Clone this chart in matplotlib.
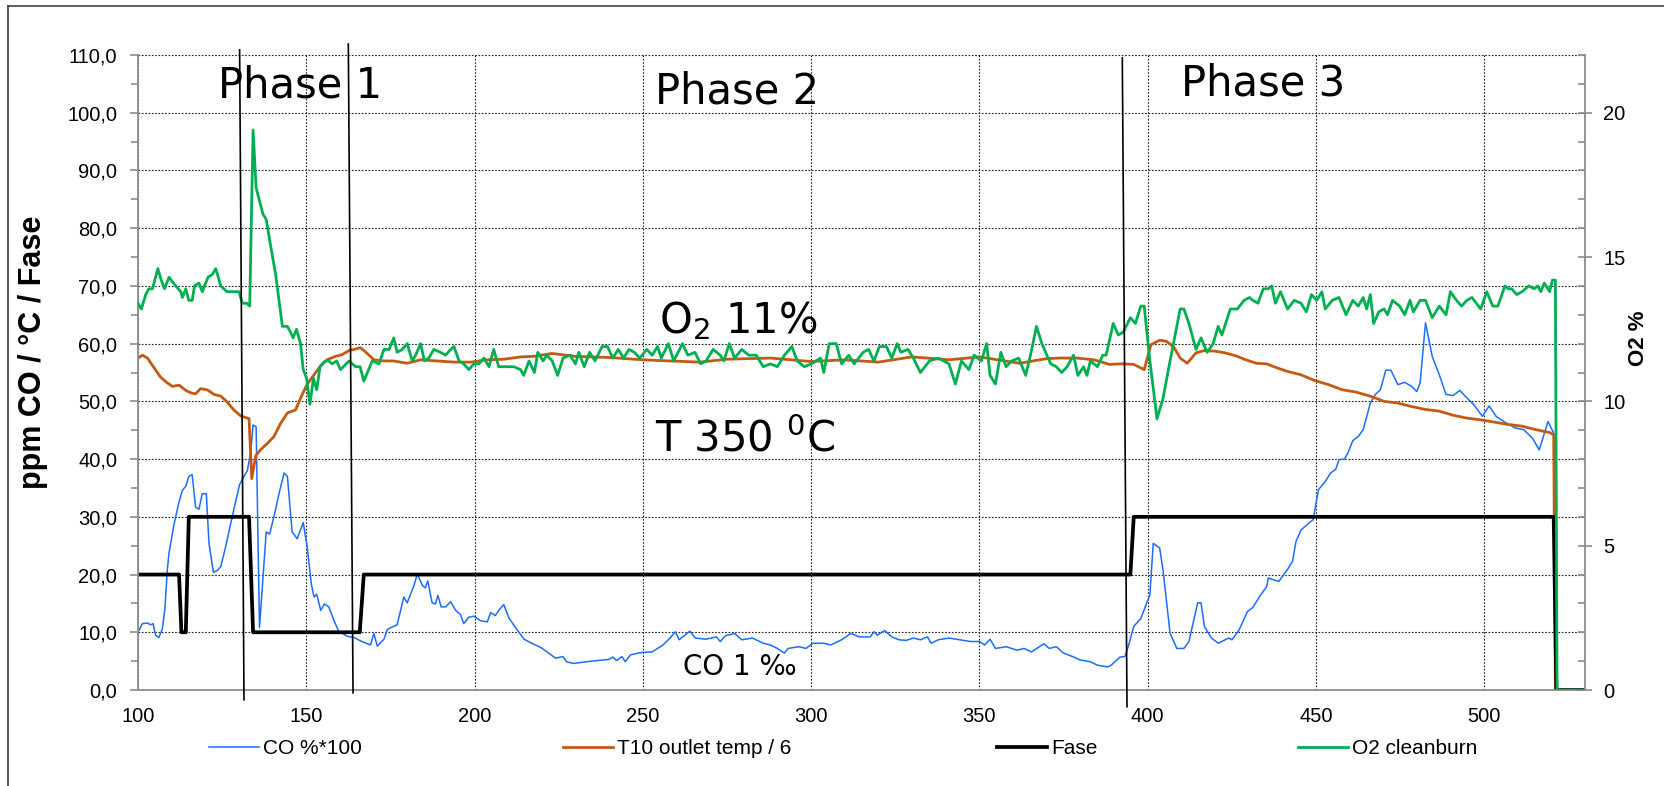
import matplotlib
matplotlib.use("Agg")
import matplotlib.pyplot as plt
from matplotlib.lines import Line2D
from matplotlib.ticker import MultipleLocator, FuncFormatter

plt.rcParams['font.family'] = ['Liberation Sans', 'DejaVu Sans']
plt.rcParams['mathtext.fontset'] = 'dejavusans'

# CO %*100 (left axis)
co_x = [100, 101.3, 102.8, 103.8, 104.5, 105.2, 106.2, 107.2, 108, 108.7, 109.2,
        110.7, 112.2, 113.2, 114.2, 115.1, 116.1, 117.1, 118.1, 119.1, 120.3,
        121.1, 122.4, 123.6, 124.6, 126, 127.5, 129, 130.2, 131.5, 132.5, 133.5,
        134.2, 135.1, 136.1, 138.1, 139.1, 140.4, 141.9, 143.4, 144.4, 145.8,
        147.3, 149.1, 150.3, 151.5, 152.3, 153.1, 154.3, 155.4, 156.7, 158.2,
        159.7, 162.2, 164.2, 166.1, 169.1, 170.1, 171.1, 173.1, 174.1, 175.5,
        177, 179, 180, 182, 183, 184.5, 185.4, 186.1, 187.4, 188.4, 189.1, 190.1,
        191.4, 192.9, 194.4, 195.8, 196.8, 198.3, 199.8, 201.8, 203.8, 204.8,
        206.2, 207.2, 208.7, 210.2, 212.2, 214.7, 217, 219.9, 224.1, 226.3,
        227.3, 229.4, 234.8, 240, 241.1, 242.2, 243.8, 244.8, 246.4, 249.6,
        252.8, 256, 258.1, 259.7, 260.8, 264, 265.6, 268.8, 271.9, 273, 274.6,
        277.3, 279.4, 282.6, 285.8, 287.9, 290, 292.1, 293.2, 296.4, 298.5,
        300.6, 303.8, 305.9, 309.1, 311.8, 314.4, 317.6, 318.7, 319.7, 321.9,
        324, 326.1, 328.3, 330.4, 332.5, 334.6, 335.7, 337.8, 341, 344.2, 347.4,
        350, 351.6, 353.2, 354.8, 358, 361.2, 363.3, 365.5, 369.2, 370.8, 372.9,
        375, 377.7, 380, 383, 385.1, 388.2, 389.2, 390.3, 391.8, 393.3, 394.4,
        395.9, 398, 399.5, 400.7, 401.7, 403.6, 404.6, 406.7, 408.7, 410.8,
        412.3, 414.9, 415.9, 416.9, 419, 421, 424.1, 425.1, 427.2, 429.7, 431.3,
        433.3, 435.4, 435.9, 439, 441.5, 443.1, 444.1, 445.6, 447.7, 449.2,
        450.8, 452.8, 454.4, 455.9, 456.9, 458.5, 459.5, 461, 462.6, 464.1,
        466.2, 467.7, 469.2, 470.8, 472.3, 474.4, 476.4, 478.5, 480, 481, 482.6,
        484.6, 486.7, 488.7, 490.8, 492.8, 494.4, 497, 499.5, 501.5, 503.6,
        506.2, 509.2, 511.8, 514.4, 516.4, 519, 520.7]
co_y = [10, 11.5, 11.6, 11.3, 11.5, 9.5, 9.1, 10.5, 14.1, 20.7, 23.7,
        28.7, 32.6, 34.6, 35.3, 37, 37.3, 31.7, 31.3, 34, 34,
        25.4, 20.4, 20.7, 21.4, 24.7, 28.7, 32.6, 35.6, 37, 38, 41.3,
        45.9, 45.6, 10.8, 27.4, 27, 30, 34, 37.6, 37, 27.4,
        26.2, 29, 24.7, 18.4, 16.1, 16.6, 13.8, 14.9, 14.4, 12.1,
        10.1, 9.3, 9.1, 8.5, 7.8, 9.8, 7.6, 8.8, 10.5, 10.9,
        11.3, 16.1, 15.1, 18.1, 20.1, 18.1, 17.7, 18.9, 15.1, 14.9, 16.4, 14.4,
        14.4, 15.3, 13.8, 13.1, 11.5, 12.6, 12.8, 12, 11.8, 13.4,
        12.9, 13.8, 14.8, 12.5, 10.8, 8.8, 8.1, 7.3, 5.5, 5.8,
        4.9, 4.6, 5.0, 5.3, 5.7, 5.1, 5.8, 4.9, 6.1, 6.5,
        6.6, 7.8, 9.0, 10.1, 8.7, 10.2, 9.0, 8.8, 9.2, 8.4, 9.4,
        9.8, 8.7, 9.0, 8.1, 7.8, 7.2, 6.4, 7.2, 7.5, 7.2,
        8.1, 8.1, 7.8, 8.7, 9.8, 9.2, 9.2, 10.1, 9.5, 10.3,
        9.2, 8.7, 8.6, 9.0, 8.7, 9.2, 8.1, 8.7, 9.0, 8.7, 8.4,
        8.4, 7.8, 8.8, 7.2, 7.5, 6.9, 7.2, 6.6, 8.0, 7.2, 7.5,
        6.4, 5.8, 5.2, 4.9, 4.3, 4.0, 4.3, 4.9, 5.7, 5.8, 7.8,
        11, 12.4, 14.7, 16.5, 25.4, 24.6, 20.8, 9.8, 7.2, 7.2,
        8.4, 15.1, 15.1, 11, 9.0, 8.1, 9.0, 8.7, 10.4, 13.6, 14.3,
        16.2, 17.9, 19.4, 18.8, 20.8, 22.3, 25.7, 27.7, 28.8, 29.5,
        34.7, 36.1, 37.6, 38.2, 39.9, 40, 41, 43.2, 43.9, 45.1,
        49.7, 51.2, 52, 55.4, 55.4, 52.9, 53.3, 52.6, 51.7, 53.2, 63.6,
        57.8, 54.6, 51.2, 51, 51.9, 50.9, 49.4, 47.4, 49.2, 47.4,
        46.4, 45.4, 45.1, 43.6, 41.6, 46.5, 44.5]

# T10 outlet temp / 6 (left axis)
temp_x = [100, 101.3, 102.8, 104.8, 106.7, 108.7, 110.2, 112.2, 114.2, 115.6,
          117.1, 118.6, 120.6, 122.6, 124.6, 126.5, 128.5, 130.5, 133, 133.8,
          135, 136.4, 138.4, 140.4, 142.4, 144.4, 146.8, 148.8, 150.3, 152.3,
          154.3, 156.2, 158.7, 160.7, 162.7, 164.2, 166.1, 168.1, 170.1, 173.1,
          176, 180, 184, 188.9, 193.9, 198.8, 203.8, 208.7, 213.7, 217.6, 223,
          230, 240, 250, 258, 267, 275, 288, 300, 310, 320, 330, 341, 350, 362,
          370, 373.8, 379, 384.1, 388.7, 392.3, 395.9, 399, 401, 403.6, 405.6,
          407.7, 409.7, 411.8, 414.4, 416.9, 420, 423.1, 426.2, 429.2, 432.3,
          435.4, 438.5, 441.5, 445.6, 449.7, 453.8, 457.9, 462, 466.2, 470.3,
          474.4, 478.5, 482.6, 486.7, 490.8, 494.9, 499, 503.1, 507.2, 511.3,
          515.4, 519.5, 520.7, 521.2]
temp_y = [57.5, 58, 57.5, 55.8, 54.2, 53.2, 52.6, 52.8, 51.9, 51.5,
          51.3, 52.2, 52, 51.2, 50.9, 49.9, 48.5, 47.5, 47, 36.6,
          40.6, 41.6, 42.7, 43.9, 46.2, 48, 48.5, 51.2, 53, 54.6,
          56.2, 57.2, 57.8, 58.1, 58.8, 59, 59.3, 58.3, 57.2, 57,
          57, 56.6, 57.2, 57, 56.8, 56.8, 57.2, 57.3, 57.7, 57.8, 58.3,
          57.8, 57.6, 57.2, 57.0, 56.8, 57.3, 57.5, 56.9, 57.2, 56.8, 57.7, 57.2, 57.7, 56.6,
          57.4, 57.5, 57.5, 57.2, 56.4, 56.5, 56.4, 55.5, 59.8, 60.6, 60.4,
          59.5, 57.5, 56.6, 58.4, 58.8, 58.7, 58.4, 57.9, 57.2, 56.6,
          56.5, 55.8, 55.2, 54.6, 53.6, 52.9, 52, 51.6, 50.9, 50,
          49.7, 49.1, 48.6, 48.3, 47.6, 47.1, 46.8, 46.4, 46, 45.7,
          45.1, 44.6, 44.2, 0]

# Fase (left axis)
fase_x = [100, 112.2, 112.9, 114.2, 115.1, 133, 134.2, 165.9, 167.1, 394.9,
          395.9, 520.7, 521.5, 530]
fase_y = [20, 20, 10, 10, 30, 30, 10, 10, 20, 20, 30, 30, 0, 0]

# O2 cleanburn (right axis, O2 %)
o2_x = [100, 101, 102.3, 103.2, 104.3, 105.9, 106.9, 107.9, 109.2, 111.2, 112.7,
        113.2, 114.2, 115.1, 116.1, 116.8, 118.1, 119.1, 120.8, 122.1, 123.1,
        124.6, 126.4, 128, 130, 131, 132.3, 133.2, 134.2, 135.1, 136.2, 137.1,
        138.1, 139.4, 140.9, 142.9, 144.4, 145.3, 146.1, 147.1, 148.3, 149.1,
        150.1, 151.1, 152.1, 153.1, 154.1, 155.7, 156.7, 157.7, 159, 160.2,
        162.7, 164.7, 166, 167.1, 169.6, 171.6, 173.1, 174.6, 176, 177, 178.5,
        180, 181.5, 182.5, 184, 185.1, 186.4, 187.9, 189.9, 191.4, 192.9, 193.9,
        195.4, 196.8, 198.3, 199.8, 201.3, 202.8, 204.3, 205.7, 207.2, 208.7,
        210.2, 211.7, 213.7, 214.6, 216.2, 217.8, 218.8, 220.4, 221.5, 223.1,
        224.7, 226.3, 228.4, 230, 231, 232.6, 234.2, 235.8, 237.9, 239.5, 241.1,
        242.7, 244.3, 245.9, 247.5, 249.1, 251.2, 252.8, 254.4, 255.5, 257.6,
        259.2, 261.8, 263.4, 265.5, 267.2, 268.8, 270.9, 273, 274.1, 275.7,
        277.3, 279.4, 281.5, 283.7, 285.8, 287.9, 290, 292.1, 294.3, 295.9, 298,
        300.1, 302.8, 303.8, 305.4, 307.5, 309.1, 311.2, 312.8, 315.5, 317.1,
        318.7, 320.3, 322.4, 324, 325.6, 326.7, 328.8, 330.4, 332.5, 335.2,
        337.8, 341, 342.9, 344.7, 346.9, 348.5, 350.6, 352.2, 353.2, 354.8,
        356.4, 358, 359.6, 361.7, 363.8, 365.4, 367, 368.6, 371.2, 372.9, 374.5,
        376.1, 378, 379.3, 381, 382, 383, 384.1, 385.1, 386.7, 387.7, 389.8,
        391.3, 392.8, 394.9, 396.4, 398, 399, 400.7, 402.8, 404.6, 406.2, 408.2,
        409.7, 410.8, 412.3, 414.4, 415.9, 417.7, 419.5, 421, 422.1, 424.6,
        426.7, 428.7, 430.3, 431.3, 432.8, 434.4, 435.9, 436.9, 438, 439.5,
        441.6, 443.6, 445.6, 447.2, 448.7, 450.3, 451.8, 452.8, 454.9, 456.9,
        459, 461, 462.6, 464.1, 465.1, 466.2, 467.2, 468.7, 470.3, 471.3, 472.8,
        474.9, 476.4, 478, 479, 481, 482.6, 484.6, 486.7, 488.7, 490, 491.8,
        493.3, 494.9, 496.4, 499, 500.8, 502.6, 504.1, 506.2, 507.2, 508.2,
        509.7, 511.3, 513.3, 514.9, 515.9, 516.9, 517.9, 519.5, 520.3, 521.2,
        521.7, 530]
o2_y = [13.4, 13.2, 13.7, 13.9, 13.9, 14.6, 14.2, 13.9, 14.3, 14.0, 13.8,
        13.6, 13.9, 13.5, 13.5, 14.0, 14.1, 13.8, 14.3, 14.4, 14.6,
        14.0, 13.8, 13.8, 13.8, 13.4, 13.4, 13.3, 19.4, 17.4, 16.9, 16.5,
        16.3, 15.4, 14.4, 12.6, 12.6, 12.4, 12.2, 12.5, 12.0, 11.1,
        10.8, 9.9, 10.8, 10.4, 11.2, 11.4, 11.4, 11.3, 11.4, 11.1,
        11.4, 11.2, 11.2, 10.7, 11.4, 11.3, 11.8, 11.8, 12.2, 11.7, 11.8,
        12.0, 11.4, 11.6, 12.0, 11.4, 11.5, 11.8, 11.7, 11.6, 11.8, 11.9,
        11.4, 11.3, 11.1, 11.3, 11.3, 11.5, 11.2, 11.8, 11.2, 11.2,
        11.2, 11.2, 11.1, 10.9, 11.4, 11.0, 11.7, 11.4, 11.6, 11.4,
        10.9, 11.5, 11.6, 11.3, 11.7, 11.2, 11.7, 11.4, 11.9, 11.9, 11.5,
        11.8, 11.5, 11.8, 11.7, 11.5, 11.8, 11.6, 11.9, 11.5, 12.0,
        11.4, 12.0, 11.6, 11.7, 11.3, 11.4, 11.8, 11.6, 11.4, 12.0,
        11.5, 11.8, 11.6, 11.6, 11.2, 11.3, 11.2, 11.6, 11.9, 11.4, 11.2,
        11.3, 11.5, 11.0, 12.0, 12.0, 11.3, 11.6, 11.3, 11.7, 11.8,
        11.4, 11.9, 11.9, 11.5, 12.0, 11.7, 11.8, 11.5, 11.0, 11.4,
        11.5, 11.3, 10.6, 11.4, 11.1, 11.6, 11.4, 12.0, 10.9, 10.6,
        11.7, 11.2, 11.4, 11.5, 10.9, 11.7, 12.6, 12.0, 11.3, 11.2, 11.0,
        11.2, 11.6, 10.9, 11.2, 10.9, 11.4, 11.3, 11.2, 11.6, 11.6, 12.7,
        12.3, 12.4, 12.9, 12.7, 13.3, 13.3, 11.4, 9.4, 10.1, 11.1, 12.3,
        13.2, 13.2, 12.7, 11.8, 12.2, 11.7, 12.0, 12.6, 12.3, 13.2,
        13.2, 13.5, 13.6, 13.5, 13.4, 13.9, 13.9, 14.0, 13.4, 13.8,
        13.2, 13.5, 13.4, 13.1, 13.7, 13.5, 13.8, 13.2, 13.5, 13.6,
        13.0, 13.5, 13.3, 13.6, 13.2, 13.7, 12.7, 13.1, 13.2, 13.0, 13.5,
        13.3, 13.0, 13.5, 13.1, 13.5, 13.5, 12.9, 13.3, 13.0, 13.8, 13.5,
        13.3, 13.5, 13.6, 13.2, 13.8, 13.3, 13.3, 14.0, 13.9, 13.9,
        13.7, 13.8, 14.0, 13.9, 14.0, 13.8, 14.1, 13.8, 14.2, 14.2,
        0, 0]

# hand-drawn phase separators (x_top, x_bottom, y_top, y_bottom in left-axis units)
phase_lines = [(130.2, 131.5, 110.9, -1.7),
               (162.5, 163.9, 111.9, -0.5),
               (392.5, 393.9, 109.5, -2.9)]

c_co = '#1a6dff'
c_temp = '#c65911'
c_fase = '#000000'
c_o2 = '#00b050'
c_axis = '#8c8c8c'

fig = plt.figure(figsize=(16.64, 7.86), dpi=100)
ax = fig.add_axes([138 / 1664, 96 / 786, 1447 / 1664, 635 / 786])
ax2 = ax.twinx()

l_co, = ax.plot(co_x, co_y, color=c_co, lw=1.1, label='CO %*100')
l_temp, = ax.plot(temp_x, temp_y, color=c_temp, lw=2.0, label='T10 outlet temp / 6')
l_fase, = ax.plot(fase_x, fase_y, color=c_fase, lw=2.7, label='Fase')
l_o2, = ax2.plot(o2_x, o2_y, color=c_o2, lw=2.0, label='O2 cleanburn')

ax.set_xlim(100, 530)
ax.set_ylim(0, 110)
ax2.set_ylim(0, 22)

ax.xaxis.set_major_locator(MultipleLocator(50))
ax.yaxis.set_major_locator(MultipleLocator(10))
ax.yaxis.set_minor_locator(MultipleLocator(5))
ax.yaxis.set_major_formatter(FuncFormatter(lambda v, p: ('%.1f' % v).replace('.', ',')))
ax2.yaxis.set_major_locator(MultipleLocator(5))
ax2.yaxis.set_minor_locator(MultipleLocator(1))

ax.grid(True, which='major', color='#202020', linestyle=(0, (1.5, 1.5)), linewidth=0.8)
ax.set_axisbelow(True)

for s in ['top', 'right']:
    ax.spines[s].set_visible(False)
for s in ['top', 'left', 'bottom']:
    ax2.spines[s].set_visible(False)
for s in ['left', 'bottom']:
    ax.spines[s].set_color(c_axis)
    ax.spines[s].set_linewidth(1.3)
ax2.spines['right'].set_color(c_axis)
ax2.spines['right'].set_linewidth(1.3)

ax.tick_params(axis='x', length=0, pad=12, labelsize=14.5)
ax.tick_params(axis='y', which='major', length=6, color=c_axis, width=1.2,
               pad=9, labelsize=14.5)
ax.tick_params(axis='y', which='minor', length=5, color=c_axis, width=1.2)
ax2.tick_params(axis='y', which='major', direction='inout', length=10,
                color=c_axis, width=1.2, pad=8, labelsize=14.5)
ax2.tick_params(axis='y', which='minor', direction='in', length=5,
                color=c_axis, width=1.2)

fig.text(33 / 1664, 1 - 352 / 786, 'ppm CO / °C / Fase', rotation=90,
         ha='center', va='center', fontsize=22, fontweight='bold')
fig.text(1638 / 1664, 1 - 338 / 786, 'O2 %', rotation=90,
         ha='center', va='center', fontsize=16, fontweight='bold')

for xt, xb, yt, yb in phase_lines:
    ax2.add_line(Line2D([xt, xb], [yt, yb], transform=ax.transData,
                        color='black', lw=1.2, clip_on=False, zorder=5))

note = dict(transform=ax.transData, family='DejaVu Sans', ha='left',
            va='baseline', color='black', zorder=6)
ax2.text(123.8, 102.7, 'Phase 1', fontsize=30, **note)
ax2.text(253.7, 101.6, 'Phase 2', fontsize=30, **note)
ax2.text(410.0, 102.9, 'Phase 3', fontsize=30, **note)
ax2.text(254.8, 61.9, r'O$_2$ 11%', fontsize=30, **note)
ax2.text(253.5, 41.4, r'T 350 $^0$C', fontsize=30, **note)
ax2.text(262.0, 2.6, 'CO 1 ‰', fontsize=20, **note)

legend_pos = [(209, l_co), (563, l_temp), (997, l_fase), (1298, l_o2)]
for px, h in legend_pos:
    fig.legend(handles=[h], labels=[h.get_label()], loc='center left',
               bbox_to_anchor=(px / 1664, 1 - 749 / 786), frameon=False,
               borderpad=0, borderaxespad=0, handlelength=2.4,
               handletextpad=0.2, fontsize=15)

# chart area border (top and left edges visible in frame)
fig.add_artist(Line2D([8.4 / 1664, 1], [1 - 5.7 / 786, 1 - 5.7 / 786],
                      transform=fig.transFigure, color='#404040', lw=1.2))
fig.add_artist(Line2D([8.4 / 1664, 8.4 / 1664], [0, 1 - 5.7 / 786],
                      transform=fig.transFigure, color='#404040', lw=1.2))

fig.savefig('out.png', dpi=100)
